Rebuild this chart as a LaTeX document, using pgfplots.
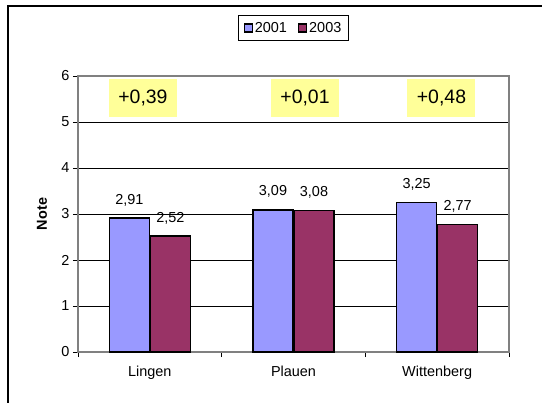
\documentclass[border=0pt]{standalone}
\usepackage{fontspec}
\setmainfont{Liberation Sans}
\usepackage{pgfplots}
\pgfplotsset{compat=1.18}
\definecolor{bluebar}{HTML}{9999FF}
\definecolor{redbar}{HTML}{993366}
\definecolor{notefill}{HTML}{FFFF99}
\definecolor{axisgray}{HTML}{808080}
\newcommand{\chartfont}{\fontsize{14.5}{16}\selectfont}
\begin{document}
\begin{tikzpicture}
\clip (0bp,0bp) rectangle (542bp,-403bp);
\useasboundingbox (0bp,0bp) rectangle (542bp,-403bp);
\draw[line width=1.5bp] (8bp,-6bp) rectangle (600bp,-500bp);
\begin{axis}[
  at={(78bp,-352bp)}, anchor=south west,
  scale only axis, width=431bp, height=276bp,
  ymin=0, ymax=6, ytick={0,1,...,6},
  xmin=-0.5, xmax=2.5, xtick={0,1,2},
  xticklabels={Lingen,Plauen,Wittenberg},
  minor xtick={-0.5,0.5,1.5,2.5},
  xtick pos=left, ytick pos=left,
  tick align=outside,
  major tick length=5bp, minor tick length=5bp,
  major x tick style={draw=none},
  tick style={black, line width=0.8bp},
  axis line style={axisgray, line width=1.5bp},
  ymajorgrids, major grid style={black, line width=0.8bp},
  ticklabel style={font=\chartfont},
  xticklabel style={yshift=-6bp},
  /pgf/number format/assume math mode=true,
  ylabel={\textbf{Note}},
  every axis y label/.style={at={(axis description cs:-0.0835,0.5)}, rotate=90, anchor=center, font=\chartfont},
  ybar=1bp, bar width=40bp,
  nodes near coords,
  every node near coord/.append style={font=\chartfont, anchor=center, yshift=18bp,
    /pgf/number format/.cd, fixed, fixed zerofill, precision=2, use comma, assume math mode=true},
  legend columns=2,
  legend style={at={(0.5,1.174)}, anchor=center, draw=black, line width=1bp,
    font=\chartfont, inner xsep=5bp, inner ysep=5bp,
    /tikz/every even column/.append style={column sep=9bp}},
  legend image code/.code={\draw[#1, draw=black, line width=1.2bp] (0bp,-4bp) rectangle (8bp,4bp);},
]
\addplot[fill=bluebar, draw=black, line width=1.5bp] coordinates {(0,2.91) (1,3.09) (2,3.25)};
\addplot[fill=redbar, draw=black, line width=1.5bp] coordinates {(0,2.52) (1,3.08) (2,2.77)};
\legend{2001,2003}
\node[fill=notefill, minimum width=68bp, minimum height=38bp, inner sep=0pt, font=\fontsize{19.5}{22}\selectfont] at (axis cs:-0.048,5.52) {+0,39};
\node[fill=notefill, minimum width=68bp, minimum height=38bp, inner sep=0pt, font=\fontsize{19.5}{22}\selectfont] at (axis cs:1.08,5.52) {+0,01};
\node[fill=notefill, minimum width=68bp, minimum height=38bp, inner sep=0pt, font=\fontsize{19.5}{22}\selectfont] at (axis cs:2.03,5.52) {+0,48};
\end{axis}
\end{tikzpicture}
\end{document}
